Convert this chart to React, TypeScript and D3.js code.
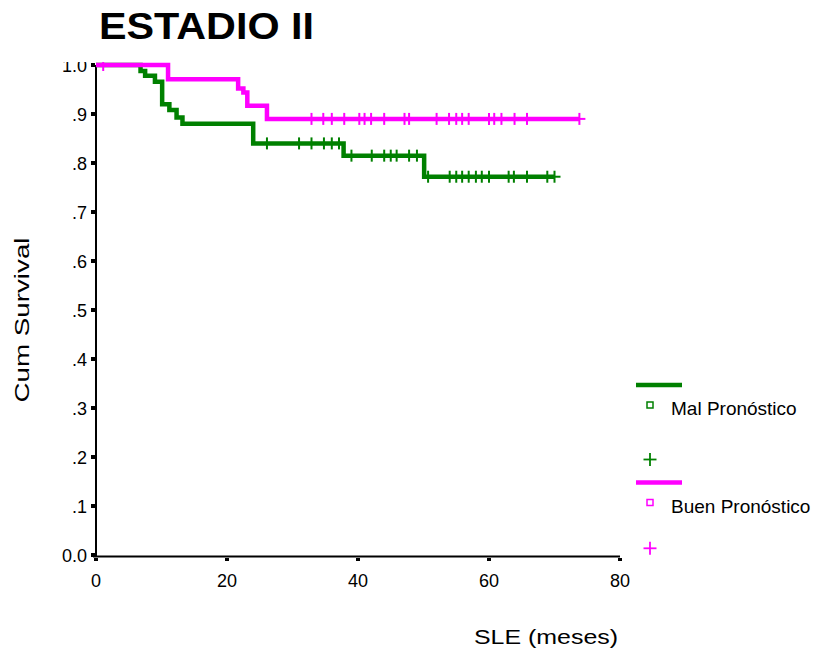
import React, { useEffect, useRef } from 'react'
import * as d3 from 'd3'

// Mal Pronóstico (green): event times and survival after each step
const malEventTimes = [6.8, 7.5, 9.0, 10.1, 11.2, 12.3, 13.2, 24.0, 37.8, 50.1]
const malEventSurvival = [0.988, 0.978, 0.966, 0.92, 0.908, 0.893, 0.88, 0.84, 0.815, 0.772]
const malCensorTimes = [
  26.1, 31.0, 32.9, 34.8, 36.0, 37.1, 39.0, 42.1, 44.0, 45.0, 45.9, 47.8, 49.0, 50.7,
  54.0, 55.0, 55.9, 56.9, 58.0, 58.9, 60.0, 63.0, 63.8, 65.8, 68.9, 70.0,
]

// Buen Pronóstico (magenta)
const buenEventTimes = [11.0, 21.7, 22.5, 23.1, 26.1]
const buenEventSurvival = [0.971, 0.952, 0.944, 0.917, 0.89]
const buenCensorTimes = [
  1.1, 32.9, 34.7, 36.0, 37.9, 40.2, 41.0, 42.0, 44.0, 47.1, 47.8, 52.0, 53.9, 55.0,
  55.9, 56.9, 60.0, 60.8, 61.9, 63.9, 65.8, 73.8,
]

const xTicks = [0, 20, 40, 60, 80]
const yTicks = [0, 0.1, 0.2, 0.3, 0.4, 0.5, 0.6, 0.7, 0.8, 0.9, 1.0]
const yTickLabels = ['0.0', '.1', '.2', '.3', '.4', '.5', '.6', '.7', '.8', '.9', '1.0']

const seriesNames = ['Mal Pronóstico', 'Buen Pronóstico']
const seriesColors = ['#008000', '#ff00ff']

const FONT = 'Arial, "Liberation Sans", sans-serif'

const App: React.FC = () => {
  const chartRef = useRef<SVGSVGElement | null>(null)

  useEffect(() => {
    const svg = d3.select(chartRef.current)
    svg.selectAll('*').remove()

    const x = d3.scaleLinear().domain([0, 80]).range([96, 620])
    const y = d3.scaleLinear().domain([0, 1]).range([555, 65])

    svg
      .append('defs')
      .append('clipPath')
      .attr('id', 'plotclip')
      .append('rect')
      .attr('x', 0)
      .attr('y', 62)
      .attr('width', 815)
      .attr('height', 600)

    // title
    svg
      .append('text')
      .attr('x', 99)
      .attr('y', 39)
      .attr('font-family', FONT)
      .attr('font-weight', 'bold')
      .attr('font-size', 36)
      .attr('textLength', 215)
      .attr('lengthAdjust', 'spacingAndGlyphs')
      .text('ESTADIO II')

    const g = svg.append('g').attr('clip-path', 'url(#plotclip)')

    // axes
    g.append('line')
      .attr('x1', x(0))
      .attr('x2', x(0))
      .attr('y1', y(1))
      .attr('y2', y(0) + 2)
      .attr('stroke', '#000')
      .attr('stroke-width', 2)
    g.append('line')
      .attr('x1', x(0) - 3)
      .attr('x2', x(80))
      .attr('y1', y(0) + 1.5)
      .attr('y2', y(0) + 1.5)
      .attr('stroke', '#000')
      .attr('stroke-width', 2)

    // y ticks
    g.selectAll('.ytick')
      .data(yTicks)
      .enter()
      .append('rect')
      .attr('x', x(0) - 5)
      .attr('y', (d) => y(d) - 2)
      .attr('width', 4)
      .attr('height', 4)
      .attr('fill', '#000')
    g.selectAll('.ylab')
      .data(yTicks)
      .enter()
      .append('text')
      .attr('x', 87)
      .attr('y', (d) => y(d) + 6.5)
      .attr('text-anchor', 'end')
      .attr('font-family', FONT)
      .attr('font-size', 18)
      .text((d, i) => yTickLabels[i])

    // x ticks
    g.selectAll('.xtick')
      .data(xTicks)
      .enter()
      .append('rect')
      .attr('x', (d) => x(d) - 2)
      .attr('y', y(0) + 3)
      .attr('width', 4)
      .attr('height', 3)
      .attr('fill', '#000')
    g.selectAll('.xlab')
      .data(xTicks)
      .enter()
      .append('text')
      .attr('x', (d) => x(d))
      .attr('y', 587)
      .attr('text-anchor', 'middle')
      .attr('font-family', FONT)
      .attr('font-size', 18)
      .text((d) => d)

    // axis titles
    svg
      .append('text')
      .attr('transform', 'translate(29,320) rotate(-90)')
      .attr('text-anchor', 'middle')
      .attr('font-family', FONT)
      .attr('font-size', 20)
      .attr('textLength', 165)
      .attr('lengthAdjust', 'spacingAndGlyphs')
      .text('Cum Survival')
    svg
      .append('text')
      .attr('x', 474)
      .attr('y', 644)
      .attr('font-family', FONT)
      .attr('font-size', 20)
      .attr('textLength', 144)
      .attr('lengthAdjust', 'spacingAndGlyphs')
      .text('SLE (meses)')

    // survival curves
    const series = [
      { times: malEventTimes, surv: malEventSurvival, censor: malCensorTimes },
      { times: buenEventTimes, surv: buenEventSurvival, censor: buenCensorTimes },
    ]
    const survAt = (s: (typeof series)[0], t: number) => {
      let v = 1
      s.times.forEach((et, i) => {
        if (et <= t) v = s.surv[i]
      })
      return v
    }
    const line = d3
      .line<[number, number]>()
      .x((d) => x(d[0]))
      .y((d) => y(d[1]))
      .curve(d3.curveStepAfter)

    series.forEach((s, k) => {
      const last = d3.max(s.censor) as number
      const pts: [number, number][] = [[0, 1]]
      s.times.forEach((t, i) => pts.push([t, s.surv[i]]))
      pts.push([last, survAt(s, last)])
      g.append('path')
        .attr('d', line(pts))
        .attr('fill', 'none')
        .attr('stroke', seriesColors[k])
        .attr('stroke-width', 4.5)

      const marks = g.append('g').attr('stroke', seriesColors[k]).attr('stroke-width', 2)
      s.censor.forEach((t) => {
        const cx = x(t)
        const cy = y(survAt(s, t))
        marks.append('line').attr('x1', cx).attr('x2', cx).attr('y1', cy - 6).attr('y2', cy + 6)
        marks.append('line').attr('x1', cx - 6).attr('x2', cx + 6).attr('y1', cy).attr('y2', cy)
      })
    })

    // legend
    const legendY = [385, 482.5]
    seriesNames.forEach((name, k) => {
      const ly = legendY[k]
      const c = seriesColors[k]
      svg
        .append('line')
        .attr('x1', 636)
        .attr('x2', 682)
        .attr('y1', ly)
        .attr('y2', ly)
        .attr('stroke', c)
        .attr('stroke-width', 4.5)
      svg
        .append('rect')
        .attr('x', 647)
        .attr('y', ly + 17)
        .attr('width', 6)
        .attr('height', 6)
        .attr('fill', 'none')
        .attr('stroke', c)
        .attr('stroke-width', 1.5)
      svg
        .append('text')
        .attr('x', 671)
        .attr('y', ly + 30)
        .attr('font-family', FONT)
        .attr('font-size', 19)
        .text(name)
      const py = ly + 74.5 - k * 8.7
      svg
        .append('line')
        .attr('x1', 650)
        .attr('x2', 650)
        .attr('y1', py - 6.5)
        .attr('y2', py + 6.5)
        .attr('stroke', c)
        .attr('stroke-width', 1.8)
      svg
        .append('line')
        .attr('x1', 643.5)
        .attr('x2', 656.5)
        .attr('y1', py)
        .attr('y2', py)
        .attr('stroke', c)
        .attr('stroke-width', 1.8)
    })
  }, [])

  return (
    <svg
      ref={chartRef}
      width={815}
      height={653}
      style={{ position: 'absolute', left: 0, top: 0, background: '#fff' }}
    ></svg>
  )
}

export default App
